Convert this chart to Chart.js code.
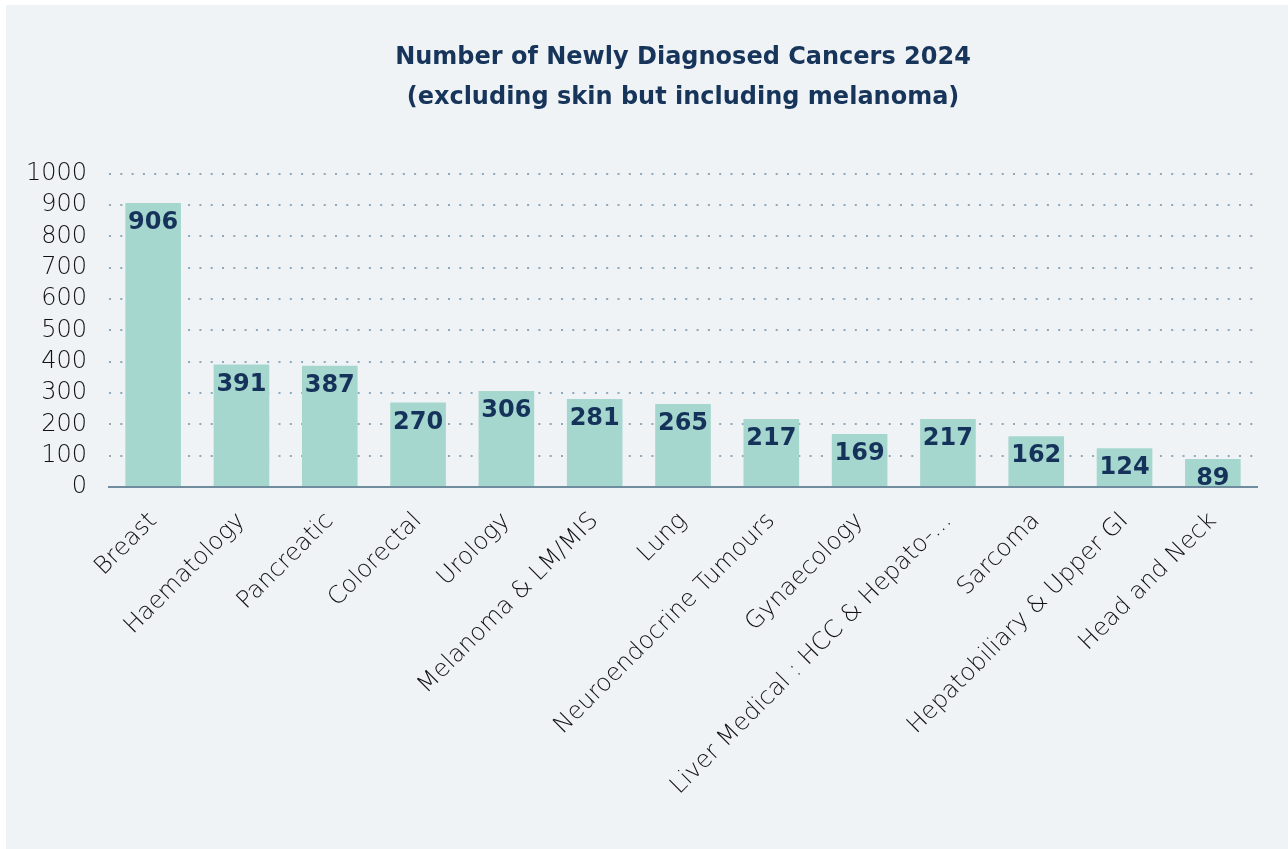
<!DOCTYPE html>
<html>
<head>
<meta charset="utf-8">
<script src="https://cdn.jsdelivr.net/npm/chart.js@4"></script>
<style>
  html, body { margin: 0; padding: 0; background: #ffffff; }
  #wrap { position: absolute; left: 6px; top: 5px; width: 1282px; height: 844px; background: #eff3f6; }
</style>
</head>
<body>
<div id="wrap"><canvas id="barChart" width="1282" height="844"></canvas></div>
<script>
const categories = [
  "Breast", "Haematology", "Pancreatic", "Colorectal", "Urology",
  "Melanoma & LM/MIS", "Lung", "Neuroendocrine Tumours", "Gynaecology",
  "Liver Medical : HCC & Hepato-...", "Sarcoma", "Hepatobiliary & Upper GI",
  "Head and Neck",
];

const cases = [906, 391, 387, 270, 306, 281, 265, 217, 169, 217, 162, 124, 89];

const titleLines = [
  "Number of Newly Diagnosed Cancers 2024",
  "(excluding skin but including melanoma)",
];

const fontFamily = "'DejaVu Sans', 'Open Sans', sans-serif";

// value labels drawn inside the top of each bar
const barLabels = {
  id: "barLabels",
  afterDatasetsDraw(chart) {
    const ctx = chart.ctx;
    const meta = chart.getDatasetMeta(0);
    ctx.save();
    ctx.font = "bold 24px " + fontFamily;
    ctx.fillStyle = "#15325a";
    ctx.textAlign = "center";
    ctx.textBaseline = "middle";
    meta.data.forEach((bar, i) => {
      ctx.fillText(String(cases[i]), bar.x, bar.y + 20);
    });
    ctx.restore();
  },
};

const data = {
  labels: categories,
  datasets: [
    {
      label: "Cases",
      backgroundColor: "#a6d7cf",
      data: cases,
      barPercentage: 0.9,
      categoryPercentage: 0.7,
    },
  ],
};

const config_bar = {
  type: "bar",
  data: data,
  options: {
    responsive: false,
    animation: false,
    layout: {
      padding: { left: 0, right: 31, top: 0, bottom: 0 },
    },
    plugins: {
      legend: { display: false },
      tooltip: { enabled: false },
      title: {
        display: true,
        fullSize: false,
        text: titleLines,
        color: "#17355a",
        font: { family: fontFamily, size: 24, weight: "bold", lineHeight: 1.7 },
        padding: { top: 32, bottom: 55 },
      },
    },
    scales: {
      y: {
        min: 0,
        max: 1000,
        afterFit(scale) { scale.width = 103; },
        ticks: {
          stepSize: 100,
          autoSkip: false,
          padding: 22,
          color: "#111111",
          font: { family: fontFamily, size: 24, weight: "200" },
          callback: (value) => String(value),
        },
        grid: {
          color: "#8ea8bd",
          lineWidth: 2,
          drawTicks: false,
        },
        border: { display: false, dash: [2, 9.3] },
      },
      x: {
        afterFit(scale) { scale.height = 362; },
        ticks: {
          minRotation: 45,
          maxRotation: 45,
          autoSkip: false,
          padding: 20,
          color: "#111111",
          font: { family: fontFamily, size: 24, weight: "200" },
        },
        grid: { display: false, drawTicks: false },
        border: { display: true, color: "#6f8d9f", width: 2 },
      },
    },
  },
  plugins: [barLabels],
};

const myBarChart = new Chart(document.getElementById("barChart"), config_bar);
</script>
</body>
</html>
